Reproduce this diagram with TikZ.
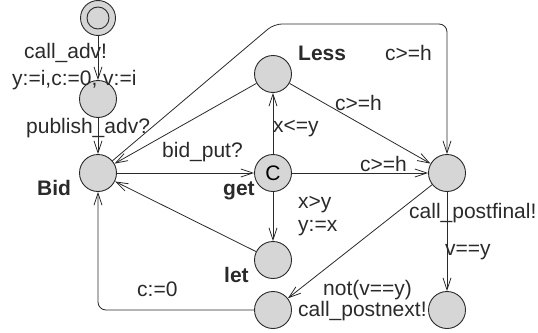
\documentclass[tikz,border=0pt]{standalone}
\usepackage{fontspec}
\setmainfont{Liberation Sans}
\usetikzlibrary{arrows.meta}
\definecolor{locfill}{HTML}{D6D6D6}
\definecolor{ink}{HTML}{2A2A2A}
\tikzset{
  every picture/.style={x=1pt,y=-1pt},
  loc/.style={circle,draw=ink,fill=locfill,line width=0.9pt,minimum size=37pt,inner sep=0pt,
    font=\fontsize{21}{25}\selectfont},
  ring/.style={draw=ink,line width=0.9pt},
  edge/.style={draw=ink,line width=0.8pt,-{Straight Barb[length=12pt,width=8pt,line width=0.8pt]}},
  lbl/.style={anchor=base west,inner sep=0pt,text=ink,font=\fontsize{21}{25}\selectfont},
  locname/.style={lbl,font=\fontsize{21}{25}\selectfont\bfseries},
}
\begin{document}
\begin{tikzpicture}
\useasboundingbox (0,0) rectangle (538,332);

% locations; the initial one gets an outer and an inner ring
\node[circle,minimum size=35pt,inner sep=0pt] (init) at (98,18) {};
\fill[locfill] (init.center) circle [radius=17.5pt];
\draw[ring] (init.center) circle [radius=17.5pt];
\draw[ring] (init.center) circle [radius=11pt];
\node[loc] (adv)  at (98,99) {};
\node[loc] (Bid)  at (98,173) {};
\node[loc] (get)  at (273,173) {C};
\node[loc] (Less) at (273,74) {};
\node[loc] (let)  at (273,260) {};
\node[loc] (fin)  at (447,173) {};
\node[loc] (next) at (273,310) {};
\node[loc] (done) at (447,310) {};

% bend points
\coordinate (t1) at (274,24);
\coordinate (t2) at (447,24);
\coordinate (b1) at (98,310);

% edges
\draw[edge] (init) -- (adv);
\draw[edge] (adv) -- (Bid);
\draw[edge] (Bid) -- (get);
\draw[edge] (get) -- (Less);
\draw[edge] (get) -- (let);
\draw[edge] (get) -- (fin);
\draw[edge] (Less) -- (fin);
\draw[edge] (Less) -- (Bid);
\draw[edge] (let) -- (Bid);
\draw[edge] (fin) -- (next);
\draw[edge] (fin) -- (done);
\draw[edge,rounded corners=8pt] (Bid) -- (t1) -- (t2) -- (fin);
\draw[edge,rounded corners=8pt] (next) -- (b1) -- (Bid);

% location names
\node[locname] (nLess) at (298,60) {Less};
\node[locname] (nBid)  at (37,195) {Bid};
\node[locname] (nget)  at (223,195) {get};
\node[locname] (nlet)  at (224,282) {let};

% edge labels
\node[lbl] (l1)  at (24,58)   {call\_adv!};
\node[lbl] (l2)  at (12,85)   {y:=i,c:=0, v:=i};
\node[lbl] (l3)  at (26,133)  {publish\_adv?};
\node[lbl] (l4)  at (162,157) {bid\_put?};
\node[lbl] (l5)  at (273,132) {x<=y};
\node[lbl] (l6)  at (335,110) {c>=h};
\node[lbl] (l7)  at (385,60)  {c>=h};
\node[lbl] (l8)  at (360,171) {c>=h};
\node[lbl] (l9)  at (298,208) {x>y};
\node[lbl] (l10) at (298,231) {y:=x};
\node[lbl] (l11) at (409,218) {call\_postfinal!};
\node[lbl] (l12) at (445,255) {v==y};
\node[lbl] (l13) at (323,295) {not(v==y)};
\node[lbl] (l14) at (298,316) {call\_postnext!};
\node[lbl] (l15) at (137,296) {c:=0};
\end{tikzpicture}
\end{document}
